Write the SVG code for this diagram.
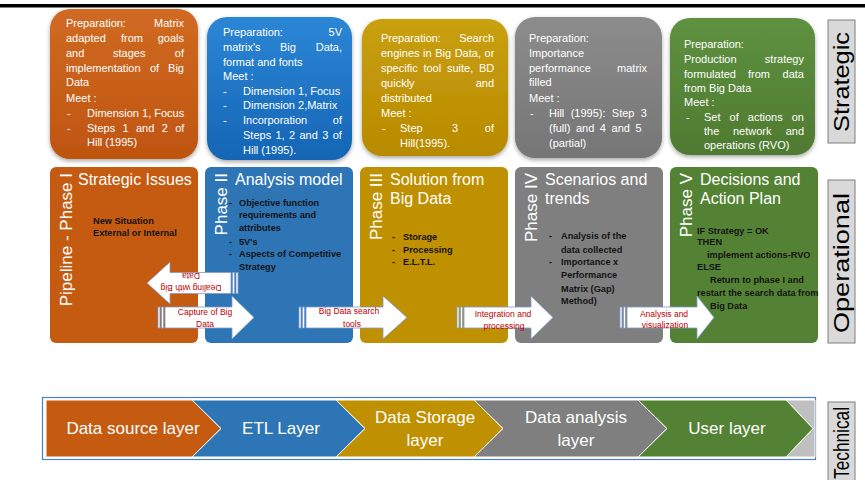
<svg xmlns="http://www.w3.org/2000/svg" width="865" height="480" viewBox="0 0 865 480">
<defs>
<style>
text{font-family:"Liberation Sans",Arial,sans-serif}
.c{font-size:11px;fill:#fff}
.e{text-anchor:end}
.t{font-size:16px;fill:#fff}
.v{font-size:17px;fill:#fff;text-anchor:end}
.b{font-size:9.2px;font-weight:bold;fill:#141414}
.r{font-size:8.5px;fill:#C00000;text-anchor:middle}
.ly{font-size:17px;fill:#fff;text-anchor:middle}
.s{font-size:22px;fill:#000;text-anchor:middle}
.arr{fill:#fff;stroke:#7F9CC8;stroke-width:0.8}
.side{fill:#D9D9D9;stroke:#7F7F7F;stroke-width:1}
.chev{stroke:#fff;stroke-width:1}
</style>
<filter id="sh" x="-10%" y="-10%" width="120%" height="125%"><feDropShadow dx="0" dy="2" stdDeviation="2" flood-color="#000" flood-opacity="0.35"/></filter>
<linearGradient id="gO" x1="0" y1="0" x2="0" y2="1"><stop offset="0" stop-color="#D06A22"/><stop offset="1" stop-color="#BF5510"/></linearGradient>
<linearGradient id="gB" x1="0" y1="0" x2="0" y2="1"><stop offset="0" stop-color="#2C86D6"/><stop offset="1" stop-color="#1565B5"/></linearGradient>
<linearGradient id="gY" x1="0" y1="0" x2="0" y2="1"><stop offset="0" stop-color="#C9A00E"/><stop offset="1" stop-color="#B88A00"/></linearGradient>
<linearGradient id="gG" x1="0" y1="0" x2="0" y2="1"><stop offset="0" stop-color="#8C8C8C"/><stop offset="1" stop-color="#767676"/></linearGradient>
<linearGradient id="gN" x1="0" y1="0" x2="0" y2="1"><stop offset="0" stop-color="#5E9140"/><stop offset="1" stop-color="#4F7A30"/></linearGradient>
</defs>
<rect width="865" height="480" fill="#fff"/>
<rect x="0" y="4" width="865" height="3.5" fill="#000"/>

<!-- Strategic callouts -->
<g id="prep1">
<rect x="50" y="9" width="148" height="150" rx="20" fill="url(#gO)" filter="url(#sh)"/>
<text class="c" x="66" y="27">Preparation:</text><text class="c e" x="184" y="27">Matrix</text>
<text class="c" x="66" y="42">adapted</text><text class="c" x="121" y="42">from</text><text class="c e" x="184" y="42">goals</text>
<text class="c" x="66" y="57">and</text><text class="c" x="113" y="57">stages</text><text class="c e" x="184" y="57">of</text>
<text class="c" x="66" y="72">implementation</text><text class="c" x="150" y="72">of</text><text class="c e" x="184" y="72">Big</text>
<text class="c" x="66" y="86">Data</text>
<text class="c" x="66" y="102">Meet :</text>
<text class="c" x="67" y="117">-</text><text class="c" x="87" y="117">Dimension 1, Focus</text>
<text class="c" x="67" y="132">-</text><text class="c" x="87" y="132" word-spacing="4.3">Steps 1 and 2 of</text>
<text class="c" x="87" y="146">Hill (1995)</text>
</g>
<g id="prep2">
<rect x="207" y="17" width="145" height="143" rx="20" fill="url(#gB)" filter="url(#sh)"/>
<text class="c" x="223" y="36">Preparation:</text><text class="c e" x="342" y="36">5V</text>
<text class="c" x="223" y="51">matrix's</text><text class="c" x="280" y="51">Big</text><text class="c e" x="342" y="51">Data,</text>
<text class="c" x="223" y="65.5">format and fonts</text>
<text class="c" x="223" y="80">Meet :</text>
<text class="c" x="223" y="94.7">-</text><text class="c" x="243" y="94.7">Dimension 1, Focus</text>
<text class="c" x="223" y="109.4">-</text><text class="c" x="243" y="109.4">Dimension 2,Matrix</text>
<text class="c" x="223" y="124">-</text><text class="c" x="243" y="124">Incorporation</text><text class="c e" x="342" y="124">of</text>
<text class="c" x="243" y="139" word-spacing="1.3">Steps 1, 2 and 3 of</text>
<text class="c" x="243" y="153.5">Hill (1995).</text>
</g>
<g id="prep3">
<rect x="362" y="19" width="146" height="137" rx="20" fill="url(#gY)" filter="url(#sh)"/>
<text class="c" x="381" y="42">Preparation:</text><text class="c e" x="494" y="42">Search</text>
<text class="c" x="381" y="57" word-spacing="0.5">engines in Big Data, or</text>
<text class="c" x="381" y="72" word-spacing="2.7">specific tool suite, BD</text>
<text class="c" x="381" y="87">quickly</text><text class="c e" x="494" y="87">and</text>
<text class="c" x="381" y="102">distributed</text>
<text class="c" x="381" y="117">Meet :</text>
<text class="c" x="382" y="132">-</text><text class="c" x="400" y="132">Step</text><text class="c" x="452" y="132">3</text><text class="c e" x="494" y="132">of</text>
<text class="c" x="400" y="147">Hill(1995).</text>
</g>
<g id="prep4">
<rect x="515" y="17" width="147" height="141" rx="20" fill="url(#gG)" filter="url(#sh)"/>
<text class="c" x="529" y="42">Preparation:</text>
<text class="c" x="529" y="57">Importance</text>
<text class="c" x="529" y="72">performance</text><text class="c e" x="647" y="72">matrix</text>
<text class="c" x="529" y="86">filled</text>
<text class="c" x="529" y="102">Meet :</text>
<text class="c" x="530" y="117">-</text><text class="c" x="549" y="117" word-spacing="3.3">Hill (1995): Step 3</text>
<text class="c" x="549" y="132" word-spacing="2.5">(full) and 4 and 5</text>
<text class="c" x="549" y="147">(partial)</text>
</g>
<g id="prep5">
<rect x="670" y="18" width="145" height="137" rx="20" fill="url(#gN)" filter="url(#sh)"/>
<text class="c" x="684" y="48">Preparation:</text>
<text class="c" x="684" y="63">Production</text><text class="c e" x="804" y="63">strategy</text>
<text class="c" x="684" y="78">formulated</text><text class="c" x="748" y="78">from</text><text class="c e" x="804" y="78">data</text>
<text class="c" x="684" y="92">from Big Data</text>
<text class="c" x="684" y="106">Meet :</text>
<text class="c" x="686" y="121">-</text><text class="c" x="704" y="121" word-spacing="6">Set of actions on</text>
<text class="c" x="704" y="135">the</text><text class="c" x="733" y="135">network</text><text class="c e" x="804" y="135">and</text>
<text class="c" x="704" y="149">operations (RVO)</text>
</g>

<!-- Operational phases -->
<g id="phase1">
<rect x="50" y="167" width="148" height="176" rx="6" fill="#C55A11"/>
<text class="v" transform="translate(72,173) rotate(-90)">Pipeline - Phase I</text>
<text class="t" x="78" y="185">Strategic Issues</text>
<text class="b" x="93" y="224">New Situation</text>
<text class="b" x="93" y="236">External or Internal</text>
</g>
<g id="phase2">
<rect x="205" y="167" width="148" height="176" rx="6" fill="#2E75B6"/>
<text class="v" transform="translate(227,173) rotate(-90)">Phase II</text>
<text class="t" x="235" y="185">Analysis model</text>
<text class="b" x="229" y="206">-</text><text class="b" x="239" y="206">Objective function</text>
<text class="b" x="239" y="218">requirements and</text>
<text class="b" x="239" y="230.5">attributes</text>
<text class="b" x="229" y="245">-</text><text class="b" x="239" y="245">5V's</text>
<text class="b" x="229" y="257">-</text><text class="b" x="239" y="257">Aspects of Competitive</text>
<text class="b" x="239" y="270">Strategy</text>
</g>
<g id="phase3">
<rect x="360" y="167" width="148" height="176" rx="6" fill="#BF9000"/>
<text class="v" transform="translate(382,173) rotate(-90)">Phase III</text>
<text class="t" x="390" y="185">Solution from</text>
<text class="t" x="390" y="204">Big Data</text>
<text class="b" x="392" y="240">-</text><text class="b" x="403" y="240">Storage</text>
<text class="b" x="392" y="252.5">-</text><text class="b" x="403" y="252.5">Processing</text>
<text class="b" x="392" y="265">-</text><text class="b" x="403" y="265">E.L.T.L.</text>
</g>
<g id="phase4">
<rect x="515" y="167" width="148" height="176" rx="6" fill="#7F7F7F"/>
<text class="v" transform="translate(537,173) rotate(-90)">Phase IV</text>
<text class="t" x="545" y="185">Scenarios and</text>
<text class="t" x="545" y="204">trends</text>
<text class="b" x="549" y="239">-</text><text class="b" x="561" y="239">Analysis of the</text>
<text class="b" x="561" y="252.5">data collected</text>
<text class="b" x="549" y="265">-</text><text class="b" x="561" y="265">Importance x</text>
<text class="b" x="561" y="278">Performance</text>
<text class="b" x="561" y="291.5">Matrix (Gap)</text>
<text class="b" x="561" y="304">Method)</text>
</g>
<g id="phase5">
<rect x="670" y="167" width="148" height="176" rx="6" fill="#548235"/>
<text class="v" transform="translate(692,173) rotate(-90)">Phase V</text>
<text class="t" x="700" y="185">Decisions and</text>
<text class="t" x="700" y="204">Action Plan</text>
<text class="b" x="697" y="234">IF Strategy = OK</text>
<text class="b" x="697" y="245">THEN</text>
<text class="b" x="707" y="257.5">implement actions-RVO</text>
<text class="b" x="697" y="270">ELSE</text>
<text class="b" x="710" y="282.5">Return to phase I and</text>
<text class="b" x="697" y="296">restart the search data from</text>
<text class="b" x="710" y="309">Big Data</text>
</g>

<!-- Connectors (block arrows) -->
<g id="connectors">
<g id="arrow-dealing">
<rect class="arr" x="232.5" y="272.5" width="2" height="21"/>
<rect class="arr" x="236" y="272.5" width="2" height="21"/>
<polygon class="arr" points="147,283 170,262 170,272.5 231,272.5 231,293.5 170,293.5 170,304"/>
<text class="r" transform="rotate(180 191 283)"><tspan x="191" y="281">Dealing with Big</tspan><tspan x="191" y="293">Data</tspan></text>
</g>
<g id="arrow-capture">
<rect class="arr" x="158" y="307" width="2" height="21"/>
<rect class="arr" x="161.5" y="307" width="2" height="21"/>
<polygon class="arr" points="165,307 232,307 232,296 254,317.5 232,339 232,328 165,328"/>
<text class="r"><tspan x="205" y="315">Capture of Big</tspan><tspan x="205" y="327">Data</tspan></text>
</g>
<g id="arrow-search">
<rect class="arr" x="299" y="307" width="2" height="21"/>
<rect class="arr" x="302.5" y="307" width="2" height="21"/>
<polygon class="arr" points="306,307 383,307 383,296 407,317.5 383,339 383,328 306,328"/>
<text class="r"><tspan x="349" y="314">Big Data search</tspan><tspan x="352" y="327">tools</tspan></text>
</g>
<g id="arrow-integration">
<rect class="arr" x="457" y="307" width="2" height="21"/>
<rect class="arr" x="460.5" y="307" width="2" height="21"/>
<polygon class="arr" points="464,307 531,307 531,296 553,317.5 531,339 531,328 464,328"/>
<text class="r"><tspan x="503" y="317">Integration and</tspan><tspan x="504" y="329">processing</tspan></text>
</g>
<g id="arrow-analysis">
<rect class="arr" x="620" y="307" width="2" height="21"/>
<rect class="arr" x="623.5" y="307" width="2" height="21"/>
<polygon class="arr" points="627,307 697,307 697,296 714,317.5 697,339 697,328 627,328"/>
<text class="r"><tspan x="664" y="317">Analysis and</tspan><tspan x="665" y="328">visualization</tspan></text>
</g>
</g>

<!-- Technical layers -->
<g id="layers">
<rect x="42.5" y="397.5" width="773" height="62" fill="#fff" stroke="#4F81BD" stroke-width="1.2"/>
<polygon class="chev" fill="#BFBFBF" points="786,400 815,400 815,457 786,457 813,428.5"/>
<g id="layer1"><polygon class="chev" fill="#C55A11" points="46,400 192,400 221,428.5 192,457 46,457"/><text class="ly" x="133" y="434">Data source layer</text></g>
<g id="layer2"><polygon class="chev" fill="#2E75B6" points="192,400 336,400 365,428.5 336,457 192,457 221,428.5"/><text class="ly" x="281" y="434">ETL Layer</text></g>
<g id="layer3"><polygon class="chev" fill="#BF9000" points="336,400 474,400 503,428.5 474,457 336,457 365,428.5"/><text class="ly" x="425" y="423">Data Storage</text><text class="ly" x="425" y="446">layer</text></g>
<g id="layer4"><polygon class="chev" fill="#7F7F7F" points="474,400 638,400 667,428.5 638,457 474,457 503,428.5"/><text class="ly" x="576" y="423">Data analysis</text><text class="ly" x="576" y="446">layer</text></g>
<g id="layer5"><polygon class="chev" fill="#548235" points="638,400 786,400 813,428.5 786,457 638,457 667,428.5"/><text class="ly" x="727" y="434">User layer</text></g>
</g>

<!-- Side labels -->
<g id="lbl-strategic">
<rect class="side" x="828" y="20" width="27" height="123"/>
<text class="s" transform="translate(849,82) rotate(-90)" textLength="100" lengthAdjust="spacingAndGlyphs">Strategic</text>
</g>
<g id="lbl-operational">
<rect class="side" x="828" y="180" width="27" height="163"/>
<text class="s" transform="translate(849,263) rotate(-90)" textLength="140" lengthAdjust="spacingAndGlyphs">Operational</text>
</g>
<g id="lbl-technical">
<rect class="side" x="828" y="402" width="27" height="82"/>
<text class="s" transform="translate(849,443) rotate(-90)" textLength="72" lengthAdjust="spacingAndGlyphs">Technical</text>
</g>
</svg>
